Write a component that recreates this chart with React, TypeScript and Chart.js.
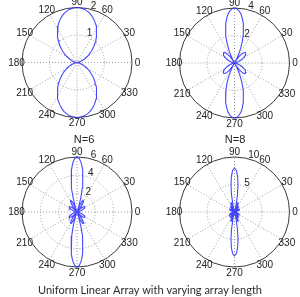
import React, { useEffect, useRef } from "react";
import { Chart, registerables } from "chart.js";

Chart.register(...registerables);

// Angles (degrees) of the first quadrant samples; the patterns are mirrored into the other quadrants
const ANGLES_DEG = [
  0, 2.5, 5, 7.5, 10, 12.5, 15, 17.5, 20, 22.5, 25, 27.5, 30, 32.5, 35, 37.5, 40, 42.5, 45,
  47.5, 50, 52.5, 55, 57.5, 60, 62.5, 65, 67.5, 70, 72.5, 75, 77.5, 80, 82.5, 85, 87.5, 90,
];

// Array factor magnitudes (first quadrant)
const AF_N2 = [
  0, 0.003, 0.012, 0.027, 0.048, 0.074, 0.107, 0.145, 0.189, 0.239, 0.293, 0.353, 0.418, 0.487,
  0.561, 0.638, 0.718, 0.802, 0.888, 0.976, 1.064, 1.153, 1.242, 1.329, 1.414, 1.497, 1.575,
  1.649, 1.717, 1.78, 1.837, 1.885, 1.926, 1.958, 1.981, 1.995, 2,
];
const AF_N4 = [
  0, 0.006, 0.024, 0.054, 0.095, 0.148, 0.213, 0.287, 0.372, 0.464, 0.561, 0.662, 0.763, 0.858,
  0.944, 1.016, 1.066, 1.088, 1.076, 1.023, 0.922, 0.772, 0.569, 0.311, 0, 0.358, 0.757, 1.191,
  1.637, 2.09, 2.524, 2.93, 3.29, 3.596, 3.812, 3.953, 4,
];
const AF_N6 = [
  0, 0.009, 0.036, 0.081, 0.143, 0.222, 0.316, 0.424, 0.541, 0.662, 0.781, 0.889, 0.974, 1.026,
  1.032, 0.981, 0.863, 0.674, 0.416, 0.096, 0.263, 0.636, 0.981, 1.256, 1.414, 1.41, 1.21, 0.793,
  0.16, 0.665, 1.634, 2.675, 3.704, 4.63, 5.361, 5.835, 6,
];
const AF_N8 = [
  0, 0.012, 0.048, 0.107, 0.19, 0.294, 0.416, 0.551, 0.691, 0.823, 0.934, 1.005, 1.016, 0.951,
  0.796, 0.546, 0.214, 0.174, 0.574, 0.921, 1.151, 1.199, 1.021, 0.605, 0, 0.697, 1.341, 1.76,
  1.789, 1.308, 0.28, 1.228, 3.039, 4.9, 6.507, 7.608, 8,
];

const SERIES = [AF_N2, AF_N4, AF_N6, AF_N8];
const RADIAL_MAX = [2, 4, 6, 10];
const RING_TICKS = [
  [1, 2],
  [2, 4],
  [2, 4, 6],
  [5, 10],
];
const PLOT_TITLES = ["", "", "N=6", "N=8"];
const ANGLE_TICKS = [0, 30, 60, 90, 120, 150, 180, 210, 240, 270, 300, 330];
const CAPTION = "Uniform Linear Array with varying array length";

// Layout (pixels)
const W = 300;
const H = 297;
const PLOT_BOXES = [
  { cx: 77, cy: 62.5, rad: 55 },
  { cx: 234.5, cy: 63, rad: 55 },
  { cx: 77, cy: 212, rad: 55 },
  { cx: 234.5, cy: 212, rad: 55 },
];
const TITLE_POS = [null, null, { x: 84, y: 140 }, { x: 235, y: 140 }];

function buildPoints(values: number[]) {
  const pts: { x: number; y: number }[] = [];
  const n = ANGLES_DEG.length;
  const push = (deg: number, r: number) => {
    const a = (deg * Math.PI) / 180;
    pts.push({ x: r * Math.cos(a), y: r * Math.sin(a) });
  };
  for (let i = 0; i < n; i++) push(ANGLES_DEG[i], values[i]);
  for (let i = n - 2; i >= 0; i--) push(180 - ANGLES_DEG[i], values[i]);
  for (let i = 1; i < n; i++) push(180 + ANGLES_DEG[i], values[i]);
  for (let i = n - 2; i >= 0; i--) push(360 - ANGLES_DEG[i], values[i]);
  return pts;
}

const polarGrid = {
  id: "polarGrid",
  beforeDatasetsDraw(chart: any) {
    const ctx = chart.ctx as CanvasRenderingContext2D;
    ctx.save();
    for (let p = 0; p < 4; p++) {
      const xs = chart.scales["x" + p];
      const ys = chart.scales["y" + p];
      const R = RADIAL_MAX[p];
      const cx = xs.getPixelForValue(0);
      const cy = ys.getPixelForValue(0);
      const rad = xs.getPixelForValue(R) - cx;

      // dotted rings
      ctx.strokeStyle = "#9a9a9a";
      ctx.lineWidth = 1;
      ctx.setLineDash([1, 2]);
      RING_TICKS[p].forEach((t) => {
        if (t >= R) return;
        const rr = xs.getPixelForValue(t) - cx;
        ctx.beginPath();
        ctx.arc(cx, cy, rr, 0, Math.PI * 2);
        ctx.stroke();
      });
      // dotted spokes
      for (let k = 0; k < 6; k++) {
        const a = (k * 30 * Math.PI) / 180;
        ctx.beginPath();
        ctx.moveTo(cx - rad * Math.cos(a), cy + rad * Math.sin(a));
        ctx.lineTo(cx + rad * Math.cos(a), cy - rad * Math.sin(a));
        ctx.stroke();
      }
      ctx.setLineDash([]);
      // outer circle
      ctx.strokeStyle = "#3a3a3a";
      ctx.lineWidth = 1;
      ctx.beginPath();
      ctx.arc(cx, cy, rad, 0, Math.PI * 2);
      ctx.stroke();

      // angle labels
      ctx.fillStyle = "#222";
      ctx.font = "10px 'Liberation Sans', Arial, sans-serif";
      ctx.textAlign = "center";
      ctx.textBaseline = "middle";
      ANGLE_TICKS.forEach((deg) => {
        const a = (deg * Math.PI) / 180;
        const lr = rad * 1.1;
        ctx.fillText(String(deg), cx + lr * Math.cos(a), cy - lr * Math.sin(a) + 0.5);
      });

      // radial tick labels
      ctx.textAlign = "left";
      RING_TICKS[p].forEach((t) => {
        const rr = xs.getPixelForValue(t) - cx;
        const a = (82 * Math.PI) / 180;
        ctx.fillText(String(t), cx + rr * Math.cos(a) + 6, cy - rr * Math.sin(a) - 2);
      });

      // titles
      const tp = TITLE_POS[p];
      if (tp && PLOT_TITLES[p]) {
        ctx.textAlign = "center";
        ctx.font = "11px 'Liberation Sans', Arial, sans-serif";
        ctx.fillText(PLOT_TITLES[p], tp.x, tp.y);
      }
    }
    // caption
    ctx.fillStyle = "#2a2a2a";
    ctx.font = "11px Lato, 'Open Sans', sans-serif";
    ctx.textAlign = "center";
    ctx.textBaseline = "middle";
    ctx.fillText(CAPTION, 150, 290, 224);
    ctx.restore();
  },
};

export default function App() {
  const ref = useRef<HTMLCanvasElement | null>(null);

  useEffect(() => {
    if (!ref.current) return;
    const scales: any = {};
    PLOT_BOXES.forEach((b, p) => {
      const k = RADIAL_MAX[p] / b.rad;
      scales["x" + p] = {
        type: "linear",
        display: false,
        min: -b.cx * k,
        max: (W - b.cx) * k,
      };
      scales["y" + p] = {
        type: "linear",
        display: false,
        min: -(H - b.cy) * k,
        max: b.cy * k,
      };
    });
    const chart = new Chart(ref.current, {
      type: "scatter",
      data: {
        datasets: SERIES.map((s, p) => ({
          label: "N" + p,
          data: buildPoints(s),
          xAxisID: "x" + p,
          yAxisID: "y" + p,
          showLine: true,
          pointRadius: 0,
          borderColor: "rgba(40,40,255,0.85)",
          borderWidth: 1.1,
          tension: 0,
        })),
      },
      options: {
        responsive: false,
        maintainAspectRatio: false,
        animation: false,
        events: [],
        layout: { padding: 0 },
        plugins: { legend: { display: false }, tooltip: { enabled: false }, title: { display: false } },
        scales,
      },
      plugins: [polarGrid],
    });
    return () => chart.destroy();
  }, []);

  return (
    <div style={{ position: "absolute", left: 0, top: 0, width: W, height: H, background: "#fff" }}>
      <canvas ref={ref} width={W} height={H} style={{ display: "block" }} />
    </div>
  );
}
